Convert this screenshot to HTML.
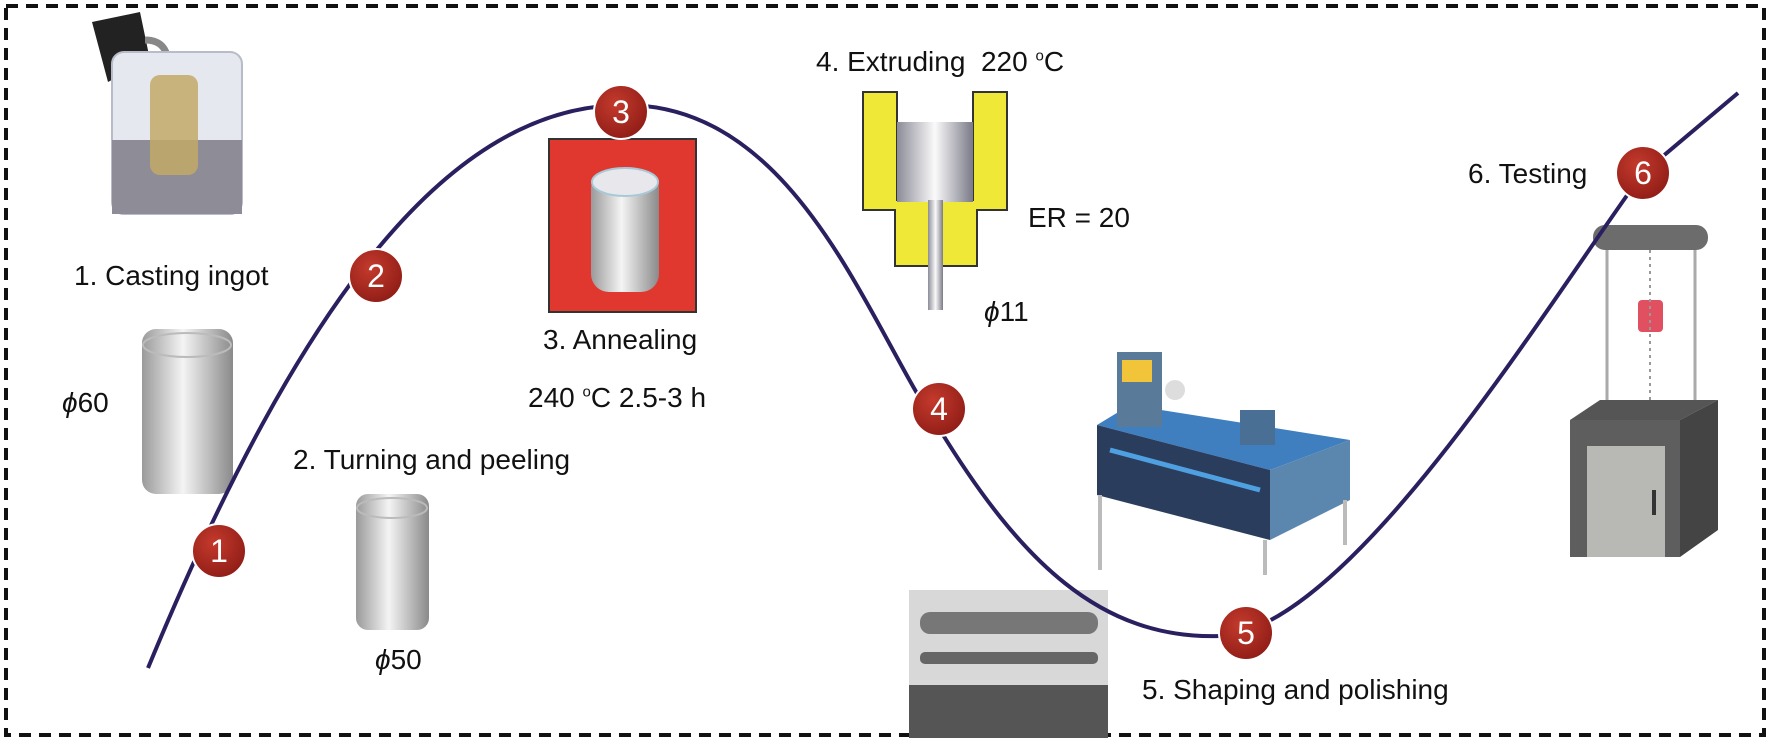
<!DOCTYPE html>
<html><head><meta charset="utf-8"><style>
body{margin:0;width:1772px;height:741px;background:#fff;overflow:hidden;position:relative;font-family:"Liberation Sans",Arial,sans-serif;}
.t{position:absolute;font-size:28px;color:#111;white-space:nowrap;line-height:1}
</style></head><body>
<svg width="1772" height="741" style="position:absolute;left:0;top:0">
<defs>
<linearGradient id="cyl" x1="0" x2="1"><stop offset="0" stop-color="#9a9a9a"/><stop offset="0.45" stop-color="#f4f4f4"/><stop offset="1" stop-color="#8a8a8a"/></linearGradient>
<linearGradient id="bil" x1="0" x2="1"><stop offset="0" stop-color="#8c8c98"/><stop offset="0.5" stop-color="#fafafa"/><stop offset="1" stop-color="#7a7a88"/></linearGradient>
<radialGradient id="rc" cx="0.4" cy="0.35" r="0.7"><stop offset="0" stop-color="#c43a2c"/><stop offset="1" stop-color="#8e1c16"/></radialGradient>
</defs>
<rect x="6" y="6" width="1758" height="729" fill="none" stroke="#111" stroke-width="4" stroke-dasharray="12,8"/>
<!-- casting -->
<path d="M92 22 L140 12 L150 60 L108 82 Z" fill="#222"/>
<path d="M145 40 Q170 40 168 70 L168 80" fill="none" stroke="#888" stroke-width="7"/>
<rect x="112" y="52" width="130" height="162" rx="12" fill="#e6e8ef" stroke="#b8bcc8" stroke-width="2"/>
<rect x="112" y="140" width="130" height="74" fill="#8e8c96"/>
<rect x="150" y="75" width="48" height="100" rx="10" fill="#c3a968" opacity="0.85"/>
<!-- cylinders -->
<rect x="142" y="329" width="91" height="165" rx="14" fill="url(#cyl)"/>
<ellipse cx="187" cy="345" rx="44" ry="12" fill="none" stroke="#bbb" stroke-width="2"/>
<rect x="356" y="494" width="73" height="136" rx="12" fill="url(#cyl)"/>
<ellipse cx="392" cy="508" rx="35" ry="10" fill="none" stroke="#bbb" stroke-width="2"/>
<!-- annealing box -->
<rect x="549" y="139" width="147" height="173" fill="#e0382e" stroke="#333" stroke-width="2"/>
<rect x="591" y="170" width="68" height="122" rx="18" fill="url(#cyl)"/>
<ellipse cx="625" cy="182" rx="33" ry="14" fill="#e8e8ec" stroke="#a8c8d8" stroke-width="2"/>
<!-- die -->
<path d="M863 92 H897 V200 H973 V92 H1007 V210 H977 V266 H895 V210 H863 Z" fill="#f0e836" stroke="#333" stroke-width="2"/>
<rect x="897" y="122" width="76" height="80" fill="url(#bil)"/>
<rect x="928" y="200" width="15" height="110" fill="url(#bil)"/>
<!-- machine -->
<path d="M1097 425 L1130 405 L1350 440 L1270 470 Z" fill="#3f7fc0"/>
<path d="M1097 425 L1270 470 L1270 540 L1097 495 Z" fill="#2a3d5c"/>
<path d="M1270 470 L1350 440 L1350 500 L1270 540 Z" fill="#5b86ad"/>
<path d="M1110 450 L1260 490" stroke="#4fa0e0" stroke-width="5"/>
<rect x="1117" y="352" width="45" height="75" fill="#5a7a9a"/>
<rect x="1122" y="360" width="30" height="22" fill="#f2c43a"/>
<circle cx="1175" cy="390" r="10" fill="#ddd"/>
<rect x="1240" y="410" width="35" height="35" fill="#4a6f95"/>
<path d="M1100 495 V570 M1265 540 V575 M1345 500 V545" stroke="#bbb" stroke-width="4"/>
<!-- test machine -->
<rect x="1593" y="225" width="115" height="25" rx="12" fill="#6c6c6c"/>
<path d="M1607 250 V405 M1695 250 V405" stroke="#aaa" stroke-width="3"/>
<rect x="1638" y="300" width="25" height="32" rx="4" fill="#e05060"/>
<path d="M1650 250 V400" stroke="#999" stroke-width="2" stroke-dasharray="3,4"/>
<path d="M1570 420 L1600 400 L1718 400 L1680 420 Z" fill="#555"/>
<rect x="1570" y="420" width="110" height="137" fill="#5e5e5e"/>
<path d="M1680 420 L1718 400 L1718 530 L1680 557 Z" fill="#444"/>
<rect x="1587" y="446" width="78" height="111" fill="#b8b8b4"/>
<rect x="1652" y="490" width="4" height="25" fill="#333"/>
<!-- specimen photo -->
<rect x="909" y="590" width="199" height="148" fill="#d8d8d8"/>
<rect x="920" y="612" width="178" height="22" rx="10" fill="#777"/>
<rect x="920" y="652" width="178" height="12" rx="5" fill="#666"/>
<rect x="909" y="685" width="199" height="53" fill="#555"/>
<!-- curve -->
<path d="M148 668 C300 300 450 105 625 105 C800 105 870 330 940 430 C1020 560 1100 640 1220 636 C1350 630 1550 300 1643 173 L1738 93" fill="none" stroke="#2a2060" stroke-width="4"/>
<g fill="url(#rc)" stroke="#fff" stroke-width="2">
<circle cx="219" cy="551" r="27"/><circle cx="376" cy="276" r="27"/><circle cx="621" cy="112" r="27"/>
<circle cx="939" cy="409" r="27"/><circle cx="1246" cy="633" r="27"/><circle cx="1643" cy="173" r="27"/>
</g>
<g fill="#fff" font-family="Liberation Sans,Arial,sans-serif" font-size="32" text-anchor="middle">
<text x="219" y="562">1</text><text x="376" y="287">2</text><text x="621" y="123">3</text>
<text x="939" y="420">4</text><text x="1246" y="644">5</text><text x="1643" y="184">6</text>
</g>
</svg>
<div class="t" style="left:74px;top:262px">1. Casting ingot</div>
<div class="t" style="left:62px;top:389px"><i>ϕ</i>60</div>
<div class="t" style="left:293px;top:446px">2. Turning and peeling</div>
<div class="t" style="left:375px;top:646px"><i>ϕ</i>50</div>
<div class="t" style="left:543px;top:326px">3. Annealing</div>
<div class="t" style="left:528px;top:384px">240 <sup style="font-size:15px">o</sup>C 2.5-3 h</div>
<div class="t" style="left:816px;top:48px">4. Extruding&nbsp; 220 <sup style="font-size:15px">o</sup>C</div>
<div class="t" style="left:1028px;top:204px">ER = 20</div>
<div class="t" style="left:984px;top:298px"><i>ϕ</i>11</div>
<div class="t" style="left:1468px;top:160px">6. Testing</div>
<div class="t" style="left:1142px;top:676px">5. Shaping and polishing</div>
</body></html>
